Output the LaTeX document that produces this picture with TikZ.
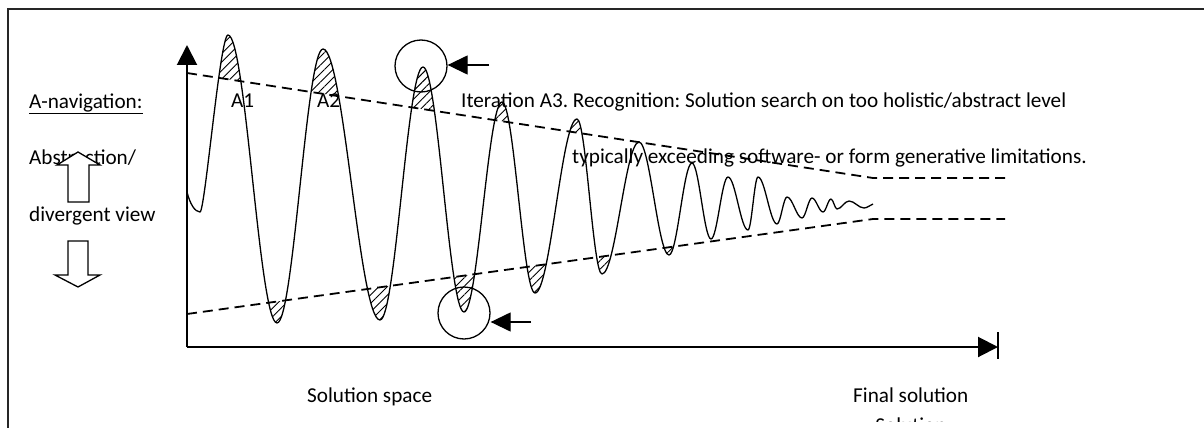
\documentclass[tikz,border=0pt]{standalone}
\usepackage{fontspec}
\setmainfont{Carlito}
\frenchspacing
\usetikzlibrary{arrows.meta,patterns.meta}
\newcommand\wavepath{(187,192) .. controls (190,204) and (195,212) .. (200,212)
 .. controls (205,212) and (220,35) .. (228,35)
 .. controls (245.8,35) and (259.2,323) .. (277,323)
 .. controls (293.7,323) and (306.3,49) .. (323,49)
 .. controls (343.7,49) and (359.3,320) .. (380,320)
 .. controls (395.7,320) and (407.3,67) .. (423,67)
 .. controls (437.9,67) and (449.1,312) .. (464,312)
 .. controls (477.8,312) and (488.2,102) .. (502,102)
 .. controls (514,102) and (523,293) .. (535,293)
 .. controls (550.3,293) and (561.7,119) .. (577,119)
 .. controls (586.1,119) and (592.9,274) .. (602,274)
 .. controls (615.5,274) and (625.5,142) .. (639,142)
 .. controls (649.9,142) and (658.1,255) .. (669,255)
 .. controls (677.4,255) and (683.6,163) .. (692,163)
 .. controls (698.9,163) and (704.1,239) .. (711,239)
 .. controls (717.2,239) and (721.8,177) .. (728,177)
 .. controls (735.3,177) and (740.7,230) .. (748,230)
 .. controls (751.6,230) and (754.4,177) .. (758,177)
 .. controls (764.9,177) and (770.1,224) .. (777,224)
 .. controls (780.6,224) and (783.4,197) .. (787,197)
 .. controls (792.5,197) and (796.5,218) .. (802,218)
 .. controls (805.6,218) and (808.4,198) .. (812,198)
 .. controls (816,198) and (819,212) .. (823,212)
 .. controls (825.9,212) and (828.1,199) .. (831,199)
 .. controls (833.2,199) and (834.8,209) .. (837,209)
 .. controls (841.4,209) and (844.6,201) .. (849,201)
 .. controls (854.5,201) and (858.5,208) .. (864,208)
 .. controls (867.3,208) and (870,205) .. (873,204)}
\begin{document}
\begin{tikzpicture}[x=1pt,y=-1pt,
 lbl/.style={anchor=base west,inner sep=0pt,font=\fontsize{21.2}{25}\selectfont},
 wave/.style={line width=1.3pt,line join=round},
 guide/.style={line width=1.8pt,dash pattern=on 10pt off 6pt},
 axis/.style={line width=2pt,-{Triangle[length=20pt,width=20pt]}},
 hatch/.style={pattern={Lines[angle=45,distance=6pt,line width=0.9pt]}},
 ring/.style={circle,draw,line width=1.3pt,minimum size=52pt,inner sep=0pt},
 pointer/.style={line width=1.3pt,-{Triangle[length=20pt,width=19pt]}},
 blockarrow/.style={draw,fill=white,line width=1.3pt,line join=miter}]
\useasboundingbox (0,0) rectangle (1204,428);
% frame
\draw[line width=1.8pt,black!85] (8,440) -- (8,9) -- (1215,9);
% hatching
\begin{scope}
 \clip (187,73) -- (873,178) -- (1005,178) -- (1005,0) -- (187,0) -- cycle;
 \path[hatch] \wavepath -- (873,420) -- (187,420) -- cycle;
\end{scope}
\begin{scope}
 \clip (187,314) -- (873,219) -- (1005,219) -- (1005,420) -- (187,420) -- cycle;
 \path[hatch] \wavepath -- (873,0) -- (187,0) -- cycle;
\end{scope}
% guide lines
\coordinate (u0) at (187,73); \coordinate (u1) at (873,178); \coordinate (u2) at (1005,178);
\coordinate (l0) at (187,314); \coordinate (l1) at (873,219); \coordinate (l2) at (1005,219);
\draw[guide] (u0) -- (u1) -- (u2);
\draw[guide] (l0) -- (l1) -- (l2);
% wave
\draw[wave] \wavepath;
% axes
\coordinate (origin) at (187,347);
\coordinate (ytop) at (187,45);
\coordinate (xend) at (998,347);
\draw[axis] (origin) -- (ytop);
\draw[axis] (origin) -- (xend);
\draw[line width=2pt] (998,332) -- (998,359);
% circles and pointers
\node[ring] (circ1) at (421,66) {};
\node[ring] (circ2) at (464,313) {};
\coordinate (s1) at (489,65);
\coordinate (s2) at (531,322);
\draw[pointer] (s1) -- (s1 -| circ1.east);
\draw[pointer] (s2) -- (s2 -| circ2.east);
% texts
\node[lbl] (nav) at (29,108) {\underline{A-navigation:}};
\node[lbl] (abs) at (29,164) {Abstraction/};
\node[lbl] (div) at (29,221) {divergent view};
\node[lbl] (a1) at (231,107) {A1};
\node[lbl] (a2) at (317,107) {A2};
\node[lbl] (it) at (461,107) {Iteration A3. Recognition: Solution search on too holistic/abstract level};
\node[lbl] (typ) at (572,163) {typically exceeding software- or form generative limitations.};
\node[lbl] (ss) at (307,402) {Solution space};
\node[lbl] (fs) at (853,402) {Final solution};
\begin{scope}
 \clip (0,0) rectangle (1204,421);
 \node[lbl,anchor=base] (cut) at (911,432) {Solution};
\end{scope}
% block arrows
\draw[blockarrow] (78,152) -- (100,165) -- (89,165) -- (89,202) -- (68,202) -- (68,165) -- (57,165) -- cycle;
\draw[blockarrow] (68,241) -- (88,241) -- (88,275) -- (100,275) -- (78,287) -- (55,275) -- (68,275) -- cycle;
\end{tikzpicture}
\end{document}
